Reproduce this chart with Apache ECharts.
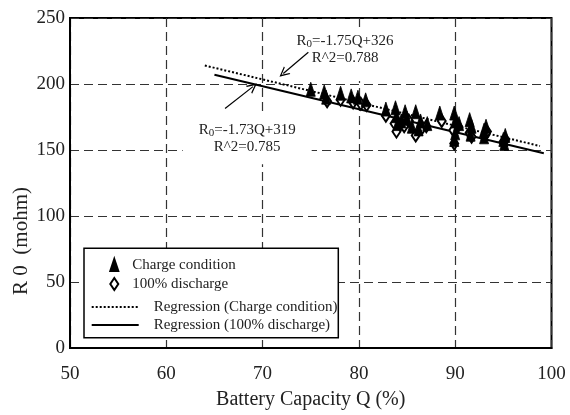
<!DOCTYPE html>
<html>
<head>
<meta charset="utf-8">
<script src="https://cdn.jsdelivr.net/npm/echarts@6/dist/echarts.min.js"></script>
<style>html,body{margin:0;padding:0;background:#fff}#c{width:570px;height:415px}</style>
</head>
<body>
<div id="c"></div>
<script>
// ---- data ----
var xTicks = [50, 60, 70, 80, 90, 100];
var yTicks = [0, 50, 100, 150, 200, 250];
var chargeQ = [75.0, 76.4, 76.6, 78.1, 79.2, 79.9, 80.7, 82.8, 83.8, 83.9, 84.0, 84.4, 84.8, 85.0, 85.5, 85.9, 86.2, 86.4, 87.1, 88.4, 89.9, 90.0, 90.4, 90.0, 89.9, 91.5, 91.7, 91.6, 93.2, 93.0, 93.0, 95.2, 95.0, 95.1];
var chargeR = [196, 194, 190, 193, 191, 190, 188, 181, 182, 176, 170, 172, 179, 174, 168, 179, 166, 172, 170, 178, 178, 172, 170, 163, 158, 173, 168, 162, 168, 165, 160, 161, 158, 155];
var dischargeQ = [76.7, 78.1, 79.4, 80.2, 80.8, 82.8, 83.7, 83.9, 84.7, 85.2, 85.9, 86.6, 87.0, 88.6, 89.8, 89.9, 90.3, 91.5, 91.7, 93.1, 93.3, 95.0, 95.2];
var dischargeR = [187, 188, 186, 185, 184, 176, 170, 164, 168, 172, 161, 167, 168, 172, 165, 155, 168, 163, 160, 161, 164, 156, 158];
var regChargeQ = [64.0, 98.8];
var regChargeR = [214, 153];
var regDischargeQ = [65.0, 99.2];
var regDischargeR = [207, 147.5];
var seriesNames = ['Charge condition', '100% discharge', 'Regression (Charge condition)', 'Regression (100% discharge)'];
var annChargeText = ['R{s|0}=-1.75Q+326', 'R^2=0.788'];
var annDischargeText = ['R{s|0}=-1.73Q+319', 'R^2=0.785'];

function zip(a, b) { return a.map(function (v, i) { return [v, b[i]]; }); }

var FONT = 'Liberation Serif';
var chart = echarts.init(document.getElementById('c'), null, { renderer: 'canvas' });
var chevron = 'path://M5,0 L10,10 L8.6,10 L5,2.8 L1.4,10 L0,10 Z';
var clear = 'rgba(0,0,0,0)';

var option = {
  backgroundColor: '#fff',
  animation: false,
  grid: { left: 70, right: 18.5, top: 18, bottom: 60, show: true, borderColor: '#000', borderWidth: 2, backgroundColor: 'transparent' },
  xAxis: {
    type: 'value', min: 50, max: 100, interval: 10,
    name: 'Battery Capacity Q (%)', nameLocation: 'middle', nameGap: 42,
    nameTextStyle: { fontFamily: FONT, fontSize: 20, color: '#222' },
    axisLine: { show: true, lineStyle: { color: '#000', width: 2 } },
    axisTick: { show: false },
    axisLabel: { margin: 17, fontFamily: FONT, fontSize: 19, color: '#222',
      formatter: function (v) { return xTicks.indexOf(v) >= 0 ? String(v) : ''; } },
    splitLine: { show: true, lineStyle: { color: '#333', width: 1.2, type: [9, 5] } }
  },
  yAxis: {
    type: 'value', min: 0, max: 250, interval: 50,
    axisLine: { show: true, lineStyle: { color: '#000', width: 2 } },
    axisTick: { show: false },
    axisLabel: { margin: 5, fontFamily: FONT, fontSize: 19, color: '#222', padding: [6, 0, 0, 0],
      formatter: function (v) { return yTicks.indexOf(v) >= 0 ? String(v) : ''; } },
    splitLine: { show: true, lineStyle: { color: '#333', width: 1.2, type: [9, 5] } }
  },
  legend: [
    {
      data: [seriesNames[0], seriesNames[1]], orient: 'vertical', left: 109.3, top: 257.5, padding: 0,
      itemWidth: 8, itemHeight: 12, itemGap: 4, selectedMode: false, z: 5,
      textStyle: { fontFamily: FONT, fontSize: 15, color: '#222', lineHeight: 14, padding: [0, 0, 0, 9] }
    },
    {
      data: [seriesNames[2], seriesNames[3]], orient: 'vertical', left: 90.7, top: 299.5, padding: 0,
      itemWidth: 47, itemHeight: 10, itemGap: 3, selectedMode: false, z: 5,
      itemStyle: { color: clear, borderColor: clear, borderWidth: 0 },
      textStyle: { fontFamily: FONT, fontSize: 15, color: '#222', lineHeight: 14, padding: [0, 0, 0, 10] }
    }
  ],
  graphic: [
    { type: 'rect', z: 3, shape: { x: 84, y: 248.3, width: 254.3, height: 89.4 },
      style: { fill: '#fff', stroke: '#000', lineWidth: 1.5 } },
    { type: 'text', z: 3, x: 21, y: 241, rotation: Math.PI / 2,
      style: { text: 'R 0  (mohm)', fontFamily: FONT, fontSize: 21, fill: '#222', align: 'center', verticalAlign: 'middle' } }
  ],
  series: [
    {
      name: seriesNames[1], type: 'scatter', data: zip(dischargeQ, dischargeR),
      symbol: 'diamond', symbolSize: [8, 12], z: 2,
      itemStyle: { color: '#fff', borderColor: '#000', borderWidth: 2, opacity: 1 }
    },
    {
      name: seriesNames[0], type: 'scatter', data: zip(chargeQ, chargeR),
      symbol: 'triangle', symbolSize: [9, 14], z: 2,
      itemStyle: { color: '#000', borderColor: '#000', borderWidth: 0.8, opacity: 1 }
    },
    {
      name: seriesNames[2], type: 'line', data: zip(regChargeQ, regChargeR),
      symbol: 'none', z: 2,
      lineStyle: { color: '#000', width: 2, type: [2, 2] }, itemStyle: { color: '#000' }
    },
    {
      name: seriesNames[3], type: 'line', data: zip(regDischargeQ, regDischargeR),
      symbol: 'none', z: 2,
      lineStyle: { color: '#000', width: 2, type: 'solid' }, itemStyle: { color: '#000' }
    },
    {
      type: 'scatter', silent: true, z: 3, symbolSize: 1,
      itemStyle: { color: clear, opacity: 1 },
      data: [
        { value: [78.56, 222], label: { show: true, position: 'inside', padding: [4, 8, 14, 8],
          formatter: annChargeText.join('\n') } },
        { value: [68.4, 158.2], label: { show: true, position: 'inside', padding: [7, 16, 9, 16],
          formatter: annDischargeText.join('\n') } }
      ],
      label: { show: true, fontFamily: FONT, fontSize: 15, color: '#222', lineHeight: 17, align: 'center',
        backgroundColor: '#fff',
        rich: { s: { fontFamily: FONT, fontSize: 11, color: '#222', verticalAlign: 'bottom', lineHeight: 17 } } }
    },
    {
      type: 'lines', coordinateSystem: 'cartesian2d', silent: true, z: 6,
      symbol: ['none', chevron], symbolSize: 10,
      lineStyle: { color: '#000', width: 1.2, opacity: 1 },
      data: [
        { coords: [[74.75, 224], [72.15, 208]] },
        { coords: [[66.1, 181.4], [69.0, 198]] }
      ]
    }
  ]
};
chart.setOption(option);
</script>
</body>
</html>
